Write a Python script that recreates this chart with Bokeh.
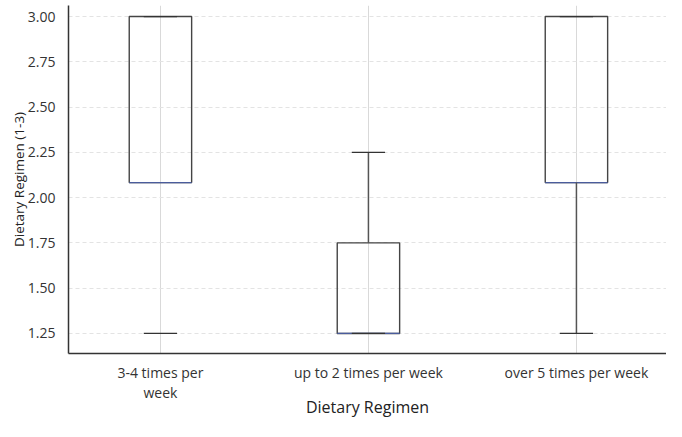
from bokeh.plotting import figure
from bokeh.models import Range1d, FixedTicker
from bokeh.embed import file_html
from bokeh.resources import INLINE

categories = ["3-4 times per\nweek", "up to 2 times per week", "over 5 times per week"]
q1 = [2.083, 1.25, 2.083]
median = [2.083, 1.25, 2.083]
q3 = [3.0, 1.75, 3.0]
lower = [1.25, 1.25, 1.25]
upper = [3.0, 2.25, 3.0]
show_lower_stem = [False, False, True]
y_ticks = [1.25, 1.50, 1.75, 2.00, 2.25, 2.50, 2.75, 3.00]

xs = [i + 0.5 for i in range(len(categories))]
box_w = 0.30
cap_w = 0.16

p = figure(width=666, height=421, output_backend="svg", toolbar_location=None,
           x_range=Range1d(0.058, 2.933), y_range=Range1d(1.1392, 3.0609),
           min_border_left=68, min_border_right=0, min_border_top=5, min_border_bottom=40)
p.outline_line_color = None
p.background_fill_color = "white"

# boxes
p.quad(left=[x - box_w / 2 for x in xs], right=[x + box_w / 2 for x in xs],
       bottom=q1, top=q3, fill_color="white", fill_alpha=0.0,
       line_color="#444444", line_width=1.4)
# medians
p.segment(x0=[x - box_w / 2 for x in xs], x1=[x + box_w / 2 for x in xs],
          y0=median, y1=median, line_color="#4a5c9c", line_width=1.3)
# upper stems
p.segment(x0=xs, x1=xs, y0=q3, y1=upper, line_color="#555555", line_width=1.5)
# lower stems
lx = [x for x, s in zip(xs, show_lower_stem) if s]
lq = [v for v, s in zip(q1, show_lower_stem) if s]
ll = [v for v, s in zip(lower, show_lower_stem) if s]
p.segment(x0=lx, x1=lx, y0=lq, y1=ll, line_color="#555555", line_width=1.5)
# caps
p.segment(x0=[x - cap_w / 2 for x in xs], x1=[x + cap_w / 2 for x in xs],
          y0=upper, y1=upper, line_color="#333333", line_width=1.3)
p.segment(x0=[x - cap_w / 2 for x in xs], x1=[x + cap_w / 2 for x in xs],
          y0=lower, y1=lower, line_color="#333333", line_width=1.3)

# axes
p.xaxis.ticker = FixedTicker(ticks=xs)
p.xaxis.major_label_overrides = {x: c for x, c in zip(xs, categories)}
p.yaxis.ticker = FixedTicker(ticks=y_ticks)
p.yaxis.major_label_overrides = {t: f"{t:.2f}" for t in y_ticks}

for ax in (p.xaxis, p.yaxis):
    ax.major_tick_line_color = None
    ax.minor_tick_line_color = None
    ax.axis_line_color = "#333333"
    ax.axis_line_width = 1.5
    ax.major_label_text_font = "Open Sans"
    ax.major_label_text_font_size = "14px"
    ax.major_label_text_color = "#333333"
    ax.axis_label_text_font = "Open Sans"
    ax.axis_label_text_font_style = "normal"
    ax.axis_label_text_color = "#222222"

p.xaxis.axis_label = "Dietary Regimen"
p.xaxis.axis_label_text_font_size = "16px"
p.xaxis.major_label_standoff = 3
p.xaxis.major_label_text_line_height = 1.1
p.xaxis.axis_label_standoff = -9
p.yaxis.axis_label = "Dietary Regimen (1-3)"
p.yaxis.axis_label_text_font_size = "13.5px"
p.yaxis.major_label_standoff = 7
p.yaxis.axis_label_standoff = -3

p.xgrid.ticker = FixedTicker(ticks=xs)
p.xgrid.grid_line_color = "#d9d9d9"
p.xgrid.grid_line_width = 1
p.ygrid.ticker = FixedTicker(ticks=y_ticks)
p.ygrid.grid_line_color = "#e3e3e3"
p.ygrid.grid_line_dash = "4 3"

open("out.html", "w").write(file_html(p, INLINE))
